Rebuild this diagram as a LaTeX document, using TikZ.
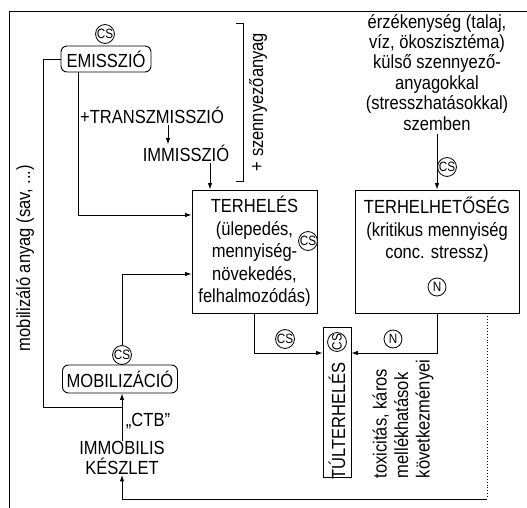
\documentclass[tikz,border=0pt]{standalone}
\usepackage{fontspec}
\setmainfont{Liberation Sans}[FakeStretch=0.87]
\usetikzlibrary{arrows.meta}
\begin{document}
\begin{tikzpicture}[x=1pt,y=-1pt,
  every node/.style={font=\fontsize{19}{20}\selectfont, inner sep=0pt},
  ln/.style={line width=0.9pt},
  arr/.style={line width=0.9pt, -{Latex[length=6.5pt,width=4.5pt]}},
  bx/.style={draw, line width=0.9pt},
  rbx/.style={draw, line width=0.9pt, rounded corners=6pt},
  mk/.style={draw, circle, line width=0.8pt, minimum size=18pt, inner sep=0pt, font=\fontsize{13.5}{12}\selectfont},
  txt/.style={align=center},
]
\useasboundingbox (0,0) rectangle (527,508);
% frame
\draw[ln] (9,508) -- (9,11) -- (527,11);

% emission
\node[rbx, minimum width=90pt, minimum height=26pt] (emi) at (106,59) {EMISSZIÓ};
\node[mk] (cs1) at (105,34) {CS};
\node (tr) at (152,115) {+TRANSZMISSZIÓ};
\node (ims) at (186,153) {IMMISSZIÓ};
\draw[ln] (236,23) -- (243,23) -- (243,181) -- (236,181);
\node[rotate=90] (szen) at (258,102) {+ szennyezőanyag};
\node[rotate=90] (mobtxt) at (25,258) {mobilizáló anyag (sav, ...)};

% load
\node[bx, minimum width=125pt, minimum height=123pt, txt, font=\fontsize{19}{22.5}\selectfont] (terh) at (254.5,251.5)
  {TERHELÉS\\(ülepedés,\\mennyiség-\\növekedés,\\felhalmozódás)};
\node[mk, fill=white] (cs5) at (308,241) {CS};

% capacity
\node[txt, font=\fontsize{19}{20.4}\selectfont, anchor=north] (src) at (437,14)
  {érzékenység (talaj,\\víz, ökoszisztéma)\\külső szennyező-\\anyagokkal\\(stresszhatásokkal)\\szemben};
\node[mk] (cs4) at (447,167) {CS};
\node[bx, minimum width=164pt, minimum height=123pt] (tlh) at (437,251.5) {};
\node[txt, font=\fontsize{19}{22.5}\selectfont, anchor=north] (tlhtxt) at (437,197)
  {TERHELHETŐSÉG\\(kritikus mennyiség\\conc. stressz)};
\node[mk] (n1) at (437,287) {N};

% mobilisation
\node[rbx, minimum width=115pt, minimum height=28pt] (mob) at (120,379) {MOBILIZÁCIÓ};
\node[mk] (cs2) at (122,355) {CS};
\node[txt] (imm) at (122,458) {IMMOBILIS\\KÉSZLET};
\node (ctb) at (148,421) {„CTB"};
\coordinate (stem) at (122,407);

% overload
\node[bx, minimum width=28pt, minimum height=150pt] (tul) at (337,402) {};
\node[rotate=90] (tultxt) at (337,421) {TÚLTERHELÉS};
\node[mk, rotate=90] (cs6) at (337,342) {CS};
\node[mk] (cs3) at (285,339) {CS};
\node[mk] (n2) at (393,339) {N};
\node[rotate=90, align=left, font=\fontsize{19}{21.5}\selectfont] (tox) at (403,419)
  {toxicitás, káros\\mellékhatások\\következményei};

% connectors
\coordinate (e1) at ([xshift=-28pt]emi.south);
\draw[arr] (e1) |- ([yshift=36.5pt]terh.west);
\draw[ln] (emi.west) -- ++(-17,0) |- (stem);
\coordinate (t1) at ([xshift=16pt]tr.south);
\draw[arr] ([yshift=-1pt]t1) -- (t1 |- ims.north);
\coordinate (i1) at ([xshift=24pt]ims.south);
\draw[arr] ([yshift=-1pt]i1) -- (i1 |- terh.north);
\draw[arr] (imm.north -| stem) -- (mob.south -| stem);
\draw[arr] (cs2.north) |- ([yshift=-22.5pt]terh.west);
\coordinate (s1) at ([yshift=-3pt]src.south);
\draw[arr] (s1) -- (tlh.north);
\draw[arr] (terh.south) |- ([yshift=49pt]tul.west);
\draw[arr] (tlh.south) |- ([yshift=49pt]tul.east);
\coordinate (d1) at ([xshift=50pt]tlh.south);
\coordinate (corner) at (d1 |- 0,499);
\draw[ln, dotted] (d1) -- (corner);
\draw[arr] (corner) -| (imm.south -| stem);
\end{tikzpicture}
\end{document}
